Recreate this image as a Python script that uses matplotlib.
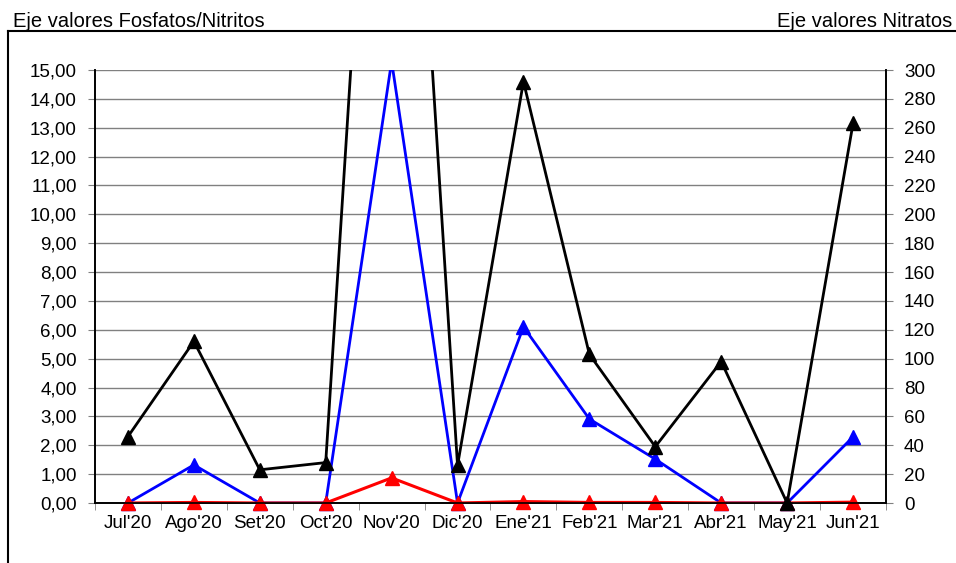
import matplotlib
matplotlib.use("Agg")
import matplotlib.pyplot as plt
from matplotlib.lines import Line2D
from matplotlib.ticker import FuncFormatter, MultipleLocator, FixedLocator
import numpy as np

plt.rcParams['font.family'] = ['Liberation Sans', 'DejaVu Sans']

months = ["Jul'20", "Ago'20", "Set'20", "Oct'20", "Nov'20", "Dic'20",
          "Ene'21", "Feb'21", "Mar'21", "Abr'21", "May'21", "Jun'21"]
fosfatos = [0.00, 1.32, 0.00, 0.00, 15.3, 0.00, 6.10, 2.91, 1.52, 0.00, 0.00, 2.29]
nitritos = [0.00, 0.02, 0.00, 0.00, 0.87, 0.00, 0.05, 0.02, 0.02, 0.00, 0.00, 0.03]
nitratos = [46, 112, 23, 28, 745, 26, 292, 103, 39, 98, 0, 263]

left_title = "Eje valores Fosfatos/Nitritos"
right_title = "Eje valores Nitratos"

fig = plt.figure(figsize=(9.56, 5.63), dpi=100)
ax = fig.add_axes([95/956, (563-503)/563, (886-95)/956, (503-70)/563])
ax2 = ax.twinx()

x = np.arange(len(months))
fs = 13.5
grid_c = '#808080'

ax.set_xlim(-0.5, len(months) - 0.5)
ax.set_ylim(0, 15)
ax2.set_ylim(0, 300)

ax.yaxis.set_major_locator(MultipleLocator(1))
ax.yaxis.set_major_formatter(FuncFormatter(lambda v, p: f"{v:.2f}".replace('.', ',')))
ax2.yaxis.set_major_locator(MultipleLocator(20))
ax2.yaxis.set_major_formatter(FuncFormatter(lambda v, p: f"{int(round(v))}"))

ax.grid(axis='y', color=grid_c, linewidth=1.0)
ax.set_axisbelow(True)


def series(a, vals, color, lw, z, top):
    vals = np.asarray(vals, dtype=float)
    a.plot(x, vals, color=color, lw=lw, zorder=z)
    keep = vals <= top
    a.plot(x[keep], vals[keep], linestyle='none', marker='^', ms=10,
           color=color, zorder=z + 0.1, clip_on=False)


series(ax, fosfatos, '#0000FF', 2.0, 3, 15)
series(ax, nitritos, '#FF0000', 2.2, 4, 15)
series(ax2, nitratos, 'black', 2.0, 3, 300)

ax.set_xticks(x)
ax.set_xticklabels(months)
ax.xaxis.set_minor_locator(FixedLocator(np.arange(-0.5, len(months), 1)))
ax.tick_params(axis='x', which='major', length=0, pad=9, labelsize=fs)
ax.tick_params(axis='x', which='minor', length=5, color=grid_c, direction='out')
ax.tick_params(axis='y', length=5, color=grid_c, pad=8, labelsize=fs)
ax2.tick_params(axis='y', length=5, color=grid_c, pad=8, labelsize=fs)

for a in (ax, ax2):
    a.spines['top'].set_visible(False)
    for s in ('left', 'right', 'bottom'):
        a.spines[s].set_linewidth(1.2)
        a.spines[s].set_color('black')

fig.text(13/956, 1 - 27/563, left_title, fontsize=14.5, ha='left', va='baseline')
fig.text(952/956, 1 - 27/563, right_title, fontsize=14.5, ha='right', va='baseline')

fig.add_artist(Line2D([8/956, 1.0], [1 - 31/563, 1 - 31/563], color='black', lw=1.5,
                      transform=fig.transFigure))
fig.add_artist(Line2D([8/956, 8/956], [1 - 31/563, 0], color='black', lw=1.5,
                      transform=fig.transFigure))

fig.savefig("out.png", dpi=100)
